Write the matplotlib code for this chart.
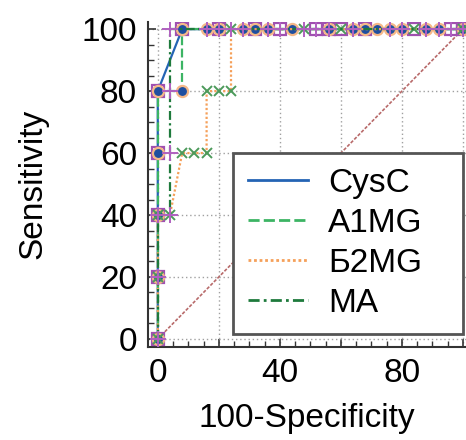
import matplotlib
matplotlib.use("Agg")
import matplotlib.pyplot as plt
from matplotlib.lines import Line2D
from matplotlib.ticker import MultipleLocator, FixedLocator, FixedFormatter

plt.rcParams['font.family'] = ['Liberation Sans', 'DejaVu Sans']

labels = ["CysC", "A1MG", "Б2MG", "MA"]

cysc_x = [0, 0, 0, 0, 0, 8, 20, 32, 40, 52, 56, 60, 68, 84, 96, 100]
cysc_y = [0, 20, 40, 60, 80, 100, 100, 100, 100, 100, 100, 100, 100, 100, 100, 100]

a1mg_x = [0, 0, 0, 0, 0, 8, 8, 16, 20, 28, 32, 36, 44, 56, 64, 68, 72, 76, 80, 88, 92, 100]
a1mg_y = [0, 20, 40, 60, 80, 80, 100, 100, 100, 100, 100, 100, 100, 100, 100, 100, 100, 100, 100, 100, 100, 100]

b2mg_x = [0, 0, 0, 4, 8, 12, 16, 16, 20, 24, 24, 48, 60, 84, 100]
b2mg_y = [0, 20, 40, 40, 60, 60, 60, 80, 80, 80, 100, 100, 100, 100, 100]

ma_x = [0, 0, 0, 4, 4, 4, 4, 16, 20, 24, 28, 36, 40, 48, 52, 56, 64, 76, 80, 88, 92, 96, 100]
ma_y = [0, 20, 40, 40, 60, 80, 100, 100, 100, 100, 100, 100, 100, 100, 100, 100, 100, 100, 100, 100, 100, 100, 100]

diag = [0, 100]

fig = plt.figure(figsize=(4.66, 4.40), dpi=100)
ax = fig.add_axes([148/466, 1-347/440, (466-148)/466, (347-21.7)/440])

ax.set_xlim(-3.2, 101)
ax.set_ylim(-2.6, 102.4)

ax.plot(diag, diag, color='#b86a6a', lw=1.2, ls=(0, (2, 1)), zorder=2)

colors = ['#2464b4', '#3cb464', '#f5a05a', '#1e7a3c']
styles = ['-', (0, (4, 1.5)), (0, (1, 1)), (0, (4, 1.5, 1, 1.5))]

ax.plot(cysc_x, cysc_y, color=colors[0], ls=styles[0], lw=1.6,
        marker='s', ms=9, mfc='none', mec='#a050b0', mew=1.6, zorder=3)
ax.plot(a1mg_x, a1mg_y, color=colors[1], ls=styles[1], lw=1.6,
        marker='o', ms=8, mfc='#1f4fa0', mec='#f5b888', mew=1.6, zorder=4)
ax.plot(b2mg_x, b2mg_y, color=colors[2], ls=styles[2], lw=1.6,
        marker='x', ms=7, mec='#4c9a5a', mew=1.4, zorder=5)
ax.plot(ma_x, ma_y, color=colors[3], ls=styles[3], lw=1.6,
        marker='+', ms=11, mec='#b060c0', mew=1.4, zorder=6)

ax.grid(True, which='major', color='#a0a0a0', ls=(0, (1, 2)), lw=1.0, zorder=0)

ax.yaxis.set_major_locator(MultipleLocator(20))
ax.xaxis.set_minor_locator(MultipleLocator(5))
ax.yaxis.set_minor_locator(MultipleLocator(5))
ax.xaxis.set_major_locator(FixedLocator([0, 20, 40, 60, 80, 100]))
ax.xaxis.set_major_formatter(FixedFormatter(["0", "", "40", "", "80", ""]))

ax.tick_params(which='both', direction='in', labelsize=24, colors='#333333', labelcolor='black')
ax.tick_params(which='major', length=6, width=1.2, pad=8)
ax.tick_params(which='minor', length=4, width=1.0)

for s in ['top', 'right']:
    ax.spines[s].set_visible(False)
for s in ['left', 'bottom']:
    ax.spines[s].set_linewidth(1.5)
    ax.spines[s].set_color('#333333')

ax.set_xlabel("100-Specificity", fontsize=24, labelpad=10)
ax.set_ylabel("Sensitivity", fontsize=24, labelpad=24)

handles = [Line2D([], [], color=c, ls=s, lw=2) for c, s in zip(colors, styles)]
leg = ax.legend(handles, labels, loc='upper left', bbox_to_anchor=(0.267, 0.043, 0.723, 0.554),
                mode='expand', borderaxespad=0, fontsize=24, handlelength=1.8,
                handletextpad=0.6, labelspacing=0.27, borderpad=0.45, fancybox=False,
                framealpha=1, edgecolor='#555555')
leg.get_frame().set_linewidth(2)

fig.savefig("out.png", dpi=100)
